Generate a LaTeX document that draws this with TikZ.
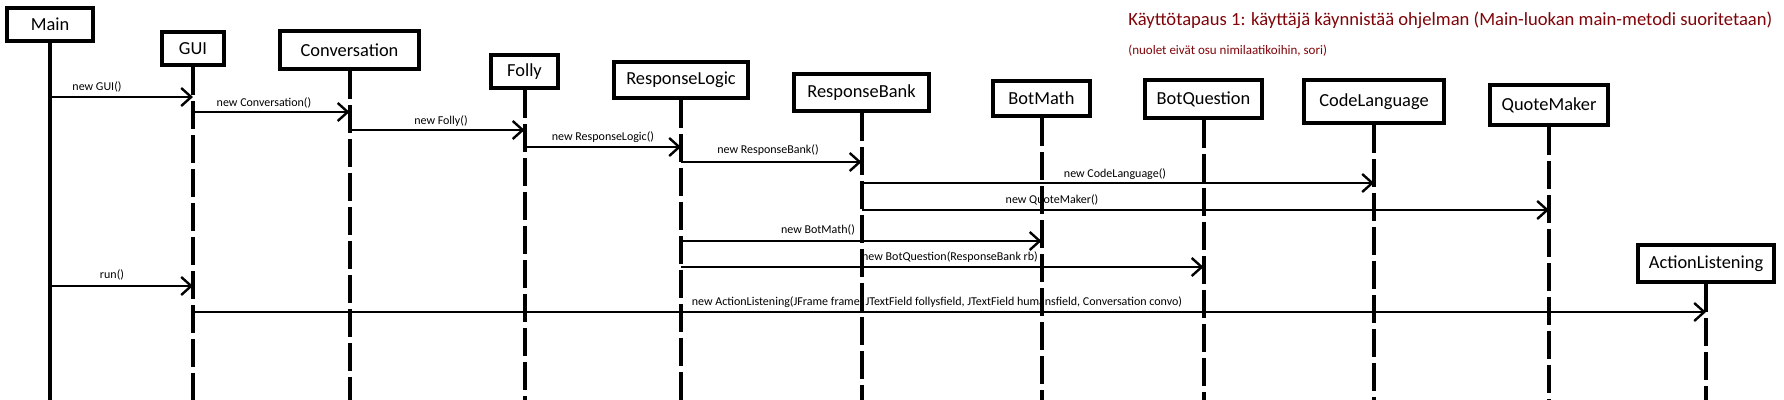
\documentclass[tikz,border=0pt]{standalone}
\usepackage{fontspec}
\setmainfont{Carlito}
\usetikzlibrary{arrows.meta}
\definecolor{titlered}{RGB}{128,5,10}
\begin{document}
\begin{tikzpicture}[x=0.5pt,y=-0.5pt,
  obj/.style={draw, line width=2pt, inner sep=0pt, font=\fontsize{9.2}{11}\selectfont},
  life/.style={line width=2pt, dash pattern=on 14pt off 3pt},
  solidlife/.style={line width=2pt},
  msg/.style={line width=1pt, -{Straight Barb[length=5pt,width=9pt,line width=1.2pt]}},
  lbl/.style={inner sep=0pt, font=\fontsize{6}{7}\selectfont},
]
\useasboundingbox (0,0) rectangle (1784,400);
\fill[white] (0,0) rectangle (1784,400);

% participants
\node[obj, minimum width=43pt,   minimum height=16.5pt] (main) at (50,24.5) {Main};
\node[obj, minimum width=31pt,   minimum height=16.5pt] (gui)  at (193,48.5) {GUI};
\node[obj, minimum width=69.5pt, minimum height=19pt]   (conv) at (349.5,50) {Conversation};
\node[obj, minimum width=33.5pt, minimum height=16.5pt] (folly) at (524.5,71.5) {Folly};
\node[obj, minimum width=67pt,   minimum height=18pt]   (rl)   at (681,80) {ResponseLogic};
\node[obj, minimum width=67.5pt, minimum height=18.5pt] (rb)   at (861.5,92.5) {ResponseBank};
\node[obj, minimum width=48.5pt, minimum height=17.5pt] (bm)   at (1041.5,98.5) {BotMath};
\node[obj, minimum width=58.5pt, minimum height=19pt]   (bq)   at (1203.5,99) {BotQuestion};
\node[obj, minimum width=70pt,   minimum height=21.5pt] (cl)   at (1374,101.5) {CodeLanguage};
\node[obj, minimum width=59pt,   minimum height=20pt]   (qm)   at (1549,105) {QuoteMaker};
\node[obj, minimum width=68pt,   minimum height=18.5pt] (al)   at (1706,263.5) {ActionListening};

% title
\node[anchor=base west, inner sep=0pt, text=titlered, font=\fontsize{9.3}{11}\selectfont] (title) at (1128,26)
  {Käyttötapaus 1: käyttäjä käynnistää ohjelman (Main-luokan main-metodi suoritetaan)};
\node[anchor=base west, inner sep=0pt, text=titlered, font=\fontsize{6.5}{8}\selectfont] (subtitle) at (1128,55)
  {(nuolet eivät osu nimilaatikoihin, sori)};

% lifelines
\draw[solidlife] (main.south) -- (main.south |- 0,400);
\foreach \n in {gui,conv,folly,rl,rb,bm,bq,cl,qm,al}
  \draw[life] (\n.south) -- (\n.south |- 0,400);

% messages
\draw[msg] (main.south |- 0,97) -- (gui.south |- 0,97);
\node[lbl] (l1) at (97,87) {new GUI()};
\draw[msg] (gui.south |- 0,112) -- (conv.south |- 0,112);
\node[lbl] (l2) at (264,103) {new Conversation()};
\draw[msg] (conv.south |- 0,130) -- (folly.south |- 0,130);
\node[lbl] (l3) at (441,121) {new Folly()};
\draw[msg] (folly.south |- 0,147) -- (rl.south |- 0,147);
\node[lbl] (l4) at (603,137) {new ResponseLogic()};
\draw[msg] (rl.south |- 0,162) -- (rb.south |- 0,162);
\node[lbl] (l5) at (768,150) {new ResponseBank()};
\draw[msg] (rb.south |- 0,183) -- (cl.south |- 0,183);
\node[lbl] (l6) at (1115,174) {new CodeLanguage()};
\draw[msg] (rb.south |- 0,210) -- (qm.south |- 0,210);
\node[lbl] (l7) at (1052,200) {new QuoteMaker()};
\draw[msg] (rl.south |- 0,241) -- (bm.south |- 0,241);
\node[lbl] (l8) at (818,230) {new BotMath()};
\draw[msg] (rl.south |- 0,267) -- (bq.south |- 0,267);
\node[lbl] (l9) at (950,257) {new BotQuestion(ResponseBank rb)};
\draw[msg] (main.south |- 0,286) -- (gui.south |- 0,286);
\node[lbl] (l10) at (112,275) {run()};
\draw[msg] (gui.south |- 0,312) -- (al.south |- 0,312);
\node[lbl] (l11) at (937,302) {new ActionListening(JFrame frame, JTextField follysfield, JTextField humansfield, Conversation convo)};
\end{tikzpicture}
\end{document}
